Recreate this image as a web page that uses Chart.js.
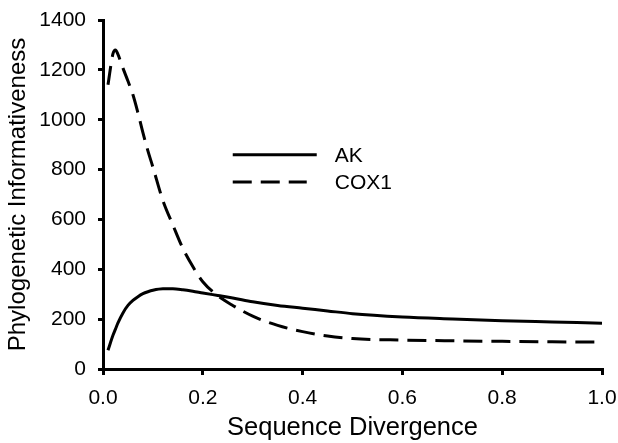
<!DOCTYPE html>
<html>
<head>
<meta charset="utf-8">
<script src="https://cdn.jsdelivr.net/npm/chart.js@4"></script>
<style>
  html, body { margin: 0; padding: 0; background: #fff; }
  #wrap { width: 618px; height: 443px; }
</style>
</head>
<body>
<div id="wrap"><canvas id="chart" width="618" height="443"></canvas></div>
<script>
// Sequence divergence (x) and informativeness per gene
const divergence = [0.01, 0.02, 0.025, 0.03, 0.04, 0.05, 0.06, 0.07, 0.08, 0.09, 0.10,
                    0.12, 0.14, 0.16, 0.18, 0.20, 0.23, 0.26, 0.30, 0.35, 0.40,
                    0.45, 0.50, 0.60, 0.70, 0.80, 0.90, 1.00];
const akValues = [75, 135, 160, 185, 225, 255, 275, 290, 302, 310, 316,
                  322, 322, 318, 312, 305, 295, 285, 270, 255, 244,
                  233, 222, 209, 201, 194, 189, 184];
const cox1Values = [1140, 1265, 1280, 1262, 1207, 1155, 1100, 1028, 948, 875, 810,
                    676, 578, 484, 411, 350, 294, 255, 212, 175, 150,
                    132, 122, 116, 113, 111, 109, 108];
const seriesNames = ['AK', 'COX1'];
const yTicks = [0, 200, 400, 600, 800, 1000, 1200, 1400];
const xTicks = [0, 0.2, 0.4, 0.6, 0.8, 1.0];

const FONT = '"Liberation Sans", Arial, sans-serif';
Chart.defaults.font.family = FONT;
Chart.defaults.color = '#000';

const toPoints = (vals) => vals.map((v, i) => ({ x: divergence[i], y: v }));

// small legend drawn inside the plot, like the original
const insideLegend = {
    id: 'insideLegend',
    afterDraw(chart) {
        const { ctx, chartArea } = chart;
        const w = chartArea.right - chartArea.left;
        const h = chartArea.bottom - chartArea.top;
        const x0 = chartArea.left + 0.26 * w;
        const lineLen = [84, 74];
        ctx.save();
        ctx.font = '21px ' + FONT;
        ctx.textBaseline = 'middle';
        ctx.fillStyle = '#000';
        chart.data.datasets.forEach((ds, i) => {
            const y = chartArea.top + (0.386 + 0.078 * i) * h;
            ctx.strokeStyle = '#000';
            ctx.lineWidth = 3;
            ctx.setLineDash(ds.borderDash || []);
            ctx.beginPath();
            ctx.moveTo(x0, y);
            ctx.lineTo(x0 + lineLen[i], y);
            ctx.stroke();
            ctx.setLineDash([]);
            ctx.fillText(ds.label, x0 + 102, y + 1);
        });
        ctx.restore();
    }
};

new Chart(document.getElementById('chart').getContext('2d'), {
    type: 'line',
    data: {
        datasets: [
            {
                label: seriesNames[0],
                data: toPoints(akValues),
                borderColor: '#000',
                borderWidth: 3,
                pointRadius: 0,
                cubicInterpolationMode: 'monotone',
                fill: false
            },
            {
                label: seriesNames[1],
                data: toPoints(cox1Values),
                borderColor: '#000',
                borderWidth: 3,
                borderDash: [19, 9],
                pointRadius: 0,
                cubicInterpolationMode: 'monotone',
                fill: false
            }
        ]
    },
    options: {
        responsive: false,
        animation: false,
        layout: { padding: { top: 20, right: 16, left: 0, bottom: 0 } },
        plugins: {
            legend: { display: false },
            tooltip: { enabled: false }
        },
        scales: {
            x: {
                type: 'linear',
                min: 0,
                max: 1,
                afterFit: (s) => { s.height = 74; s.paddingRight = 0; s.paddingLeft = 0; },
                afterBuildTicks: (s) => { s.ticks = xTicks.map(v => ({ value: v })); },
                ticks: {
                    font: { size: 21 },
                    padding: 11,
                    callback: (v) => Number(v).toFixed(1)
                },
                grid: { drawOnChartArea: false, color: '#000', lineWidth: 3, tickLength: 6 },
                border: { color: '#000', width: 3 },
                title: {
                    display: true,
                    text: 'Sequence Divergence',
                    font: { size: 25.5 },
                    padding: { top: 0, bottom: 0 }
                }
            },
            y: {
                min: 0,
                max: 1400,
                afterFit: (s) => { s.width = 103; s.paddingTop = 0; s.paddingBottom = 0; },
                afterBuildTicks: (s) => { s.ticks = yTicks.map(v => ({ value: v })); },
                ticks: {
                    font: { size: 21 },
                    padding: 12,
                    callback: (v) => String(v)
                },
                grid: { drawOnChartArea: false, color: '#000', lineWidth: 3, tickLength: 5 },
                border: { color: '#000', width: 3 },
                title: {
                    display: true,
                    text: 'Phylogenetic Informativeness',
                    font: { size: 24 },
                    padding: { top: 4, bottom: 0 }
                }
            }
        }
    },
    plugins: [insideLegend]
});
</script>
</body>
</html>
